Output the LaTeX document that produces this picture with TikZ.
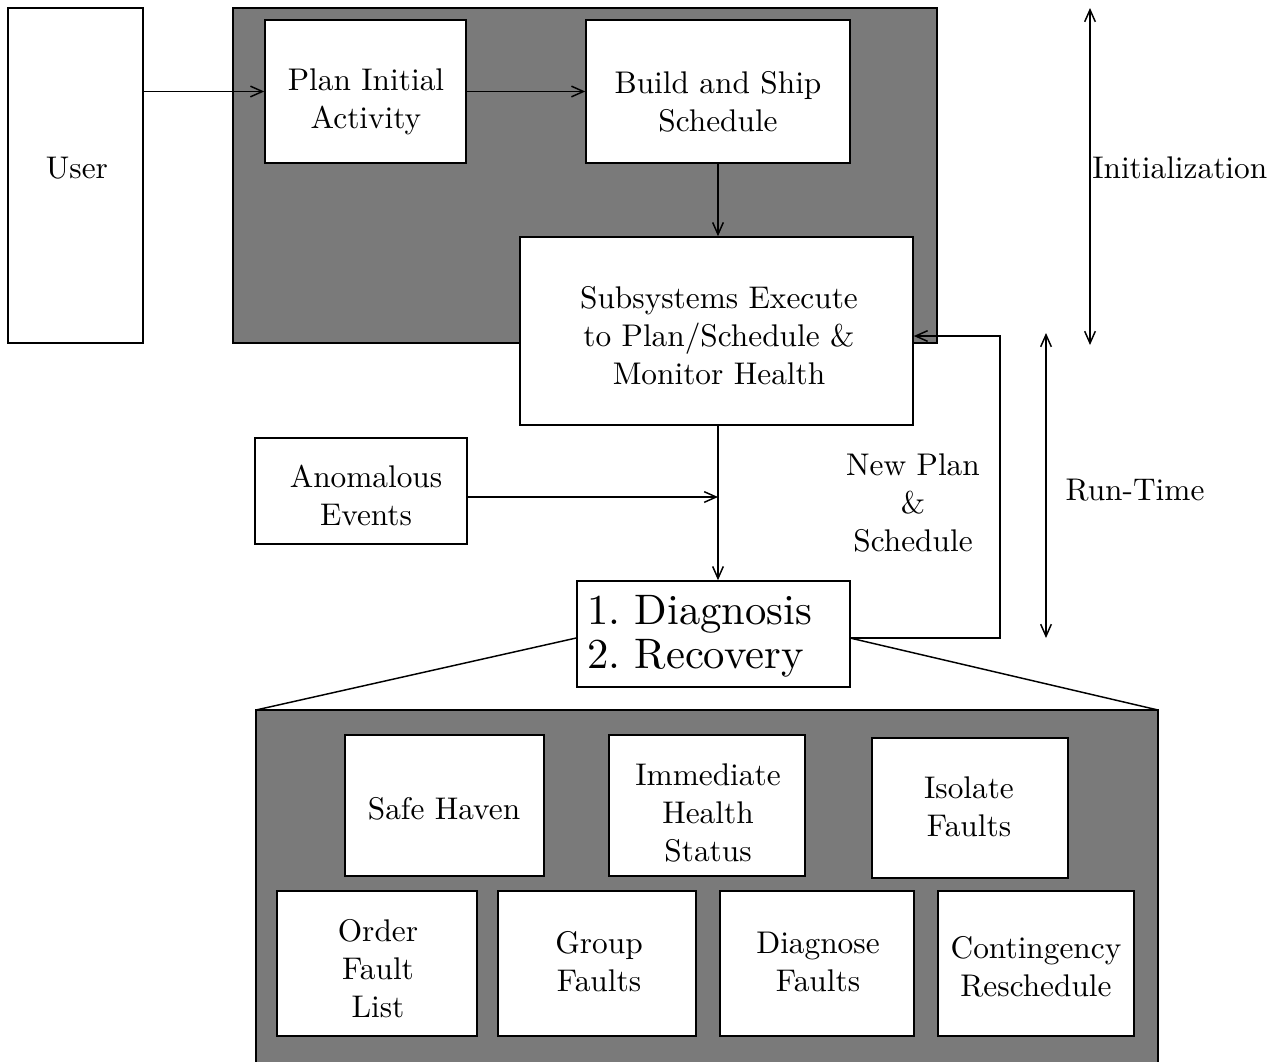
\documentclass[tikz,border=0pt]{standalone}
\usepackage{fontspec}
\setmainfont{lmroman10-regular.otf}
\usetikzlibrary{arrows.meta}
\begin{document}
\begin{tikzpicture}[x=0.75pt,y=-0.75pt,
  every node/.style={font=\fontsize{23.5}{28.5}\selectfont, align=center, inner sep=0pt},
  box/.style={draw, line width=1.2pt, fill=white, rectangle},
  shadebox/.style={draw, line width=1.2pt, fill=black!52},
  conn/.style={line width=1.1pt},
  arr/.style={conn, -{Straight Barb[length=9pt,width=8pt,line width=1.1pt]}},
  darr/.style={conn, {Straight Barb[length=9pt,width=8pt,line width=1.1pt]}-{Straight Barb[length=9pt,width=8pt,line width=1.1pt]}}]
\useasboundingbox (0,0) rectangle (1278,1061);
\clip (0,0) rectangle (1278,1061);
% shaded backgrounds
\path[shadebox] (233,8) rectangle (937,343);
\path[shadebox] (256,710) rectangle (1158,1075);
\coordinate (bl) at (256,710);
\coordinate (br) at (1158,710);
% top boxes
\node[box, minimum width=101.25pt, minimum height=251.25pt] (user) at (75.5,175.5) {};
\node[box, minimum width=150.75pt, minimum height=107.25pt] (plan) at (365.5,91.5) {};
\node[box, minimum width=198pt, minimum height=107.25pt] (build) at (718,91.5) {};
\node[box, minimum width=294.75pt, minimum height=141pt] (subsys) at (716.5,331) {};
\node[box, minimum width=159pt, minimum height=79.5pt] (anom) at (361,491) {};
\node[box, minimum width=204.75pt, minimum height=79.5pt] (diag) at (713.5,634) {};
% bottom boxes
\node[box, minimum width=149.25pt, minimum height=105.75pt] (safe) at (444.5,805.5) {};
\node[box, minimum width=147pt, minimum height=105.75pt] (immed) at (707,805.5) {};
\node[box, minimum width=147pt, minimum height=105pt] (isol) at (970,808) {};
\node[box, minimum width=150pt, minimum height=108.75pt] (order) at (377,963.5) {};
\node[box, minimum width=148.5pt, minimum height=108.75pt] (group) at (597,963.5) {};
\node[box, minimum width=145.5pt, minimum height=108.75pt] (dfault) at (817,963.5) {};
\node[box, minimum width=147pt, minimum height=108.75pt] (cont) at (1036,963.5) {};
% texts
\node (userT) at (77,168) {User};
\node (planT) at (366,102) {Plan Initial\\Activity};
\node (buildT) at (718,102) {Build and Ship\\Schedule};
\node (subsysT) at (719,336) {Subsystems Execute\\to Plan/Schedule \&\\Monitor Health};
\node (anomT) at (366,495) {Anomalous\\Events};
\node[anchor=west, align=left, font=\fontsize{32}{33}\selectfont] (diagT) at (587,636) {1.\ Diagnosis\\2.\ Recovery};
\node (safeT) at (444,809) {Safe Haven};
\node (immedT) at (708,813) {Immediate\\Health\\Status};
\node (isolT) at (969,807) {Isolate\\Faults};
\node (orderT) at (378,969) {Order\\Fault\\List};
\node (groupT) at (599,962) {Group\\Faults};
\node (dfaultT) at (818,962) {Diagnose\\Faults};
\node (contT) at (1036,967) {Contingency\\Reschedule};
% connectors
\draw[arr] (user.east |- plan.west) -- (plan.west);
\draw[arr] (plan.east) -- (build.west);
\draw[arr] (build.south) -- (build.south |- subsys.north);
\coordinate (jn) at (718,497);
\draw[arr] (jn |- subsys.south) -- (jn |- diag.north);
\draw[arr] (anom.east |- jn) -- (jn);
\coordinate (fb) at (1000,336);
\coordinate (fb2) at (850,638);
\draw[arr] (fb2) -| (fb) -- (fb -| subsys.east);
\draw[conn] (diag.west |- fb2) -- (bl);
\draw[conn] (fb2) -- (br);
% labels
\node (np) at (913,503) {New Plan\\\&\\Schedule};
\coordinate (i1) at (1090,8);
\coordinate (i2) at (1090,345);
\draw[darr] (i1) -- (i2);
\coordinate (r1) at (1046,333);
\coordinate (r2) at (1046,638);
\draw[darr] (r1) -- (r2);
\node[anchor=west] (init) at (1092,168) {Initialization};
\node (rt) at (1135,490) {Run-Time};
\end{tikzpicture}
\end{document}
